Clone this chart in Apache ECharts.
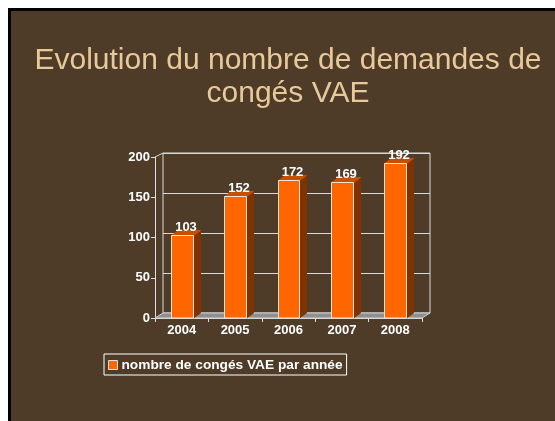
<!DOCTYPE html>
<html>
<head>
<meta charset="utf-8">
<script src="https://cdn.jsdelivr.net/npm/echarts@6/dist/echarts.min.js"></script>
<style>
  html, body { margin: 0; padding: 0; background: #fff; }
  #slide {
    position: absolute; left: 8px; top: 8px; width: 547px; height: 413px;
    box-sizing: border-box; border-left: 3px solid #000; border-top: 3px solid #000;
    background: #4e3c29;
  }
  #chart { position: absolute; left: 0; top: 0; width: 555px; height: 421px; }
</style>
</head>
<body>
<div id="slide"></div>
<div id="chart"></div>
<script>
var years = ['2004', '2005', '2006', '2007', '2008'];
var demandes = [103, 152, 172, 169, 192];
var yTicks = [0, 50, 100, 150, 200];

var chartDom = document.getElementById('chart');
var myChart = echarts.init(chartDom, null, { renderer: 'canvas' });

// profondeur de l'effet 3D
var dx = 7, dy = 5;

var option = {
  animation: false,
  textStyle: { fontFamily: 'Arial, "Liberation Sans", sans-serif' },
  title: {
    text: 'Evolution du nombre de demandes de\ncongés VAE',
    left: 283,
    top: 39,
    textAlign: 'center',
    textStyle: {
      color: '#e8c99a',
      fontSize: 30,
      fontWeight: 'normal',
      lineHeight: 33,
      fontFamily: 'Arial, "Liberation Sans", sans-serif'
    }
  },
  legend: {
    left: 104,
    top: 354,
    padding: [4, 4, 3, 4],
    itemGap: 0,
    itemWidth: 9,
    itemHeight: 9,
    borderColor: '#ffffff',
    borderWidth: 1,
    textStyle: { color: '#ffffff', fontSize: 13.7, fontWeight: 'bold', padding: [0, 0, 0, -1] },
    data: [{
      name: 'nombre de congés VAE par année',
      icon: 'rect',
      itemStyle: { color: '#ff6600', borderColor: '#e0e0e0', borderWidth: 1 }
    }]
  },
  grid: [
    { left: 155, right: 133, top: 157, bottom: 103 },
    { left: 163, right: 125, top: 153, bottom: 108, show: true, borderColor: '#d9d9d9', borderWidth: 1, z: 0 }
  ],
  xAxis: [
    {
      type: 'category', gridIndex: 0, data: years,
      axisLine: { lineStyle: { color: '#e0e0e0' } },
      axisTick: { show: true, length: 4, lineStyle: { color: '#e0e0e0' } },
      axisLabel: { color: '#ffffff', fontSize: 13, fontWeight: 'bold', margin: 6 }
    },
    {
      type: 'category', gridIndex: 1, data: years, show: false
    }
  ],
  yAxis: [
    {
      type: 'value', gridIndex: 0, min: 0, max: 200, interval: 50,
      axisLine: { show: true, lineStyle: { color: '#e0e0e0' } },
      axisTick: { show: true, length: 4, lineStyle: { color: '#e0e0e0' } },
      splitLine: { show: false },
      axisLabel: {
        color: '#ffffff', fontSize: 13, fontWeight: 'bold', margin: 5,
        formatter: function (v) { return yTicks.indexOf(v) >= 0 ? String(v) : ''; }
      }
    },
    {
      type: 'value', gridIndex: 1, min: 0, max: 200, interval: 50,
      axisLine: { show: false }, axisTick: { show: false }, axisLabel: { show: false },
      splitLine: { show: true, lineStyle: { color: '#d9d9d9', width: 1 } }
    }
  ],
  graphic: [
    {
      type: 'polygon', z: 1, silent: true,
      shape: { points: [[155, 318], [163, 313], [430, 313], [422, 318]] },
      style: { fill: '#8f8f8f', stroke: '#d0d0d0', lineWidth: 1 }
    },
    {
      type: 'line', z: 1, silent: true,
      shape: { x1: 155, y1: 157, x2: 163, y2: 153 },
      style: { stroke: '#d9d9d9', lineWidth: 1 }
    }
  ],
  series: [
    {
      name: 'nombre de congés VAE par année',
      type: 'custom',
      xAxisIndex: 0,
      yAxisIndex: 0,
      z: 5,
      itemStyle: { color: '#ff6600' },
      data: years.map(function (y, i) { return [i, demandes[i]]; }),
      renderItem: function (params, api) {
        var top = api.coord([api.value(0), api.value(1)]);
        var base = api.coord([api.value(0), 0]);
        var w = api.size([1, 0])[0] * 0.41;
        var x0 = Math.round(top[0] - w / 2) + 0.5;
        var x1 = Math.round(top[0] + w / 2) + 0.5;
        var yt = Math.round(top[1]) + 0.5;
        var yb = base[1];
        return {
          type: 'group',
          children: [
            {
              type: 'polygon',
              shape: { points: [[x1, yt], [x1 + dx, yt - dy], [x1 + dx, yb - dy], [x1, yb]] },
              style: { fill: '#7f3300', stroke: '#7f3300', lineWidth: 1 }
            },
            {
              type: 'polygon',
              shape: { points: [[x0, yt], [x0 + dx, yt - dy], [x1 + dx, yt - dy], [x1, yt]] },
              style: { fill: '#c65000', stroke: '#c65000', lineWidth: 1 }
            },
            {
              type: 'rect',
              shape: { x: x0, y: yt, width: x1 - x0, height: yb - yt },
              style: { fill: '#ff6600', stroke: '#f4e4d8', lineWidth: 1 }
            },
            {
              type: 'text',
              style: {
                text: String(api.value(1)),
                x: (x0 + x1 + dx) / 2,
                y: yt - dy + 3,
                align: 'center',
                verticalAlign: 'bottom',
                fill: '#ffffff',
                font: 'bold 13px Arial, "Liberation Sans", sans-serif'
              }
            }
          ]
        };
      }
    }
  ]
};

option && myChart.setOption(option);
</script>
</body>
</html>
